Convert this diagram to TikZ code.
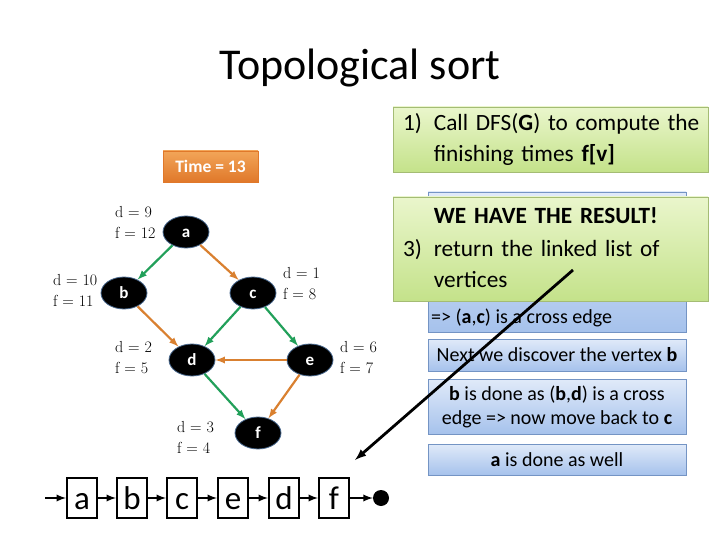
\documentclass[tikz,border=0pt]{standalone}
\usepackage{fontspec}
\newfontfamily\slidefont{Carlito}
\usepackage{xcolor}
\usetikzlibrary{shapes.geometric}
\definecolor{vtxedge}{HTML}{4A6A90}
\definecolor{treegreen}{HTML}{22A05A}
\definecolor{crossorange}{HTML}{D98030}
\definecolor{greentop}{HTML}{EAF6CC}
\definecolor{greenbot}{HTML}{C4E28A}
\definecolor{greenedge}{HTML}{A4BC74}
\definecolor{bluetop}{HTML}{E0EAF9}
\definecolor{bluebot}{HTML}{A6C2EC}
\definecolor{blueedge}{HTML}{7494C4}
\definecolor{timetop}{HTML}{F2A558}
\definecolor{timebot}{HTML}{E0782A}
\tikzset{
	vertex/.style={ellipse, fill=black, draw=vtxedge, thick, inner sep=0pt, minimum width=46pt, minimum height=32pt, text height=10pt, text depth=0pt, text=white, font=\slidefont\bfseries\fontsize{17}{17}\selectfont},
	dflabel/.style={anchor=west, align=left, inner sep=0pt, font=\fontsize{16}{21}\selectfont},
	treeedge/.style={-latex, line width=2.2pt, draw=treegreen},
	crossedge/.style={-latex, line width=2.2pt, draw=crossorange},
	listbox/.style={rectangle, draw, line width=2pt, inner sep=0pt, minimum width=30pt, minimum height=40pt, text height=22pt, text depth=0pt, font=\slidefont\fontsize{33}{33}\selectfont},
	listarrow/.style={-latex, line width=2.2pt},
	greenbox/.style={rectangle, draw=greenedge, top color=greentop, bottom color=greenbot, inner xsep=10pt, inner ysep=0pt, text width=295pt, align=left, minimum width=315pt, font=\slidefont\fontsize{23.3}{31}\selectfont},
	bluebox/.style={rectangle, draw=blueedge, top color=bluetop, bottom color=bluebot, inner sep=0pt, minimum width=258pt, align=center, font=\slidefont\fontsize{20}{24}\selectfont}
}
\begin{document}
\begin{tikzpicture}[x=1pt, y=-1pt]
	\useasboundingbox (0,0) rectangle (720,540);
	\node[font=\slidefont\fontsize{44}{44}\selectfont] (title) at (360,68) {Topological sort};
	
	% boxes on the right
	\node[bluebox, minimum height=140pt] (msg) at (557,262) {};
	\node[anchor=base west, inner sep=0pt, font=\slidefont\fontsize{20}{24}\selectfont] (msgtxt) at (431,323) {=> (\textbf{a},\textbf{c}) is a cross edge};
	\node[greenbox, minimum height=65pt] (step1) at (550.5,139.5) {\begin{tabular}{@{}l@{\hspace{12pt}}l@{}}1) & Call DFS(\textbf{G}) to compute the\\ & finishing times \textbf{f[v]}\end{tabular}};
	\node[greenbox, minimum height=104pt] (step3) at (550.5,249) {\begin{tabular}{@{}l@{\hspace{12pt}}l@{}} & \textbf{WE HAVE THE RESULT!}\\[2pt] 3) & return the linked list of\\ & vertices\end{tabular}};
	\node[bluebox, minimum height=32pt] (next) at (557,355) {Next we discover the vertex \textbf{b}};
	\node[bluebox, minimum height=55pt] (bdone) at (557,406.5) {\textbf{b} is done as (\textbf{b},\textbf{d}) is a cross\\edge => now move back to \textbf{c}};
	\node[bluebox, minimum height=31pt] (adone) at (557,459.5) {\textbf{a} is done as well};
	
	\node[rectangle, draw=timebot, top color=timetop, bottom color=timebot, minimum width=95pt, minimum height=31pt, inner sep=0pt, text=white, font=\slidefont\bfseries\fontsize{17.5}{17.5}\selectfont] (time) at (210.5,166.5) {Time = 13};
	
	% the graph
	\node[vertex] (a) at (186,232) {a};
	\node[vertex] (b) at (124,293) {b};
	\node[vertex] (c) at (253,293) {c};
	\node[vertex] (d) at (192,360) {d};
	\node[vertex] (e) at (310,360) {e};
	\node[vertex] (f) at (258,433) {f};
	
	\node[dflabel] (la) at (115,222) {d = 9\\f = 12};
	\node[dflabel] (lb) at (53,290) {d = 10\\f = 11};
	\node[dflabel] (lc) at (283,284) {d = 1\\f = 8};
	\node[dflabel] (ld) at (115,358) {d = 2\\f = 5};
	\node[dflabel] (le) at (340,358) {d = 6\\f = 7};
	\node[dflabel] (lf) at (177,437) {d = 3\\f = 4};
	
	\draw[treeedge] (a) -- (b);
	\draw[crossedge] (a) -- (c);
	\draw[crossedge] (b) -- (d);
	\draw[treeedge] (c) -- (d);
	\draw[treeedge] (c) -- (e);
	\draw[crossedge] (e) -- (d);
	\draw[treeedge] (d) -- (f);
	\draw[crossedge] (e) -- (f);
	
	% the linked list
	\coordinate (head) at (45,498);
	\node[listbox] (na) at (82,498) {a};
	\node[listbox] (nb) at (132,498) {b};
	\node[listbox] (nc) at (182,498) {c};
	\node[listbox] (ne) at (233,498) {e};
	\node[listbox] (nd) at (284,498) {d};
	\node[listbox] (nf) at (334,498) {f};
	\node[circle, fill=black, minimum size=16pt, inner sep=0pt] (nil) at (381,498) {};
	\draw[listarrow] (head) -- (na);
	\draw[listarrow] (na) -- (nb);
	\draw[listarrow] (nb) -- (nc);
	\draw[listarrow] (nc) -- (ne);
	\draw[listarrow] (ne) -- (nd);
	\draw[listarrow] (nd) -- (nf);
	\draw[listarrow] (nf) -- (nil);
	
	\coordinate (pstart) at (573,270);
	\coordinate (pend) at (355,460);
	\draw[-latex, line width=2.8pt] (pstart) -- (pend);
\end{tikzpicture}
\end{document}
